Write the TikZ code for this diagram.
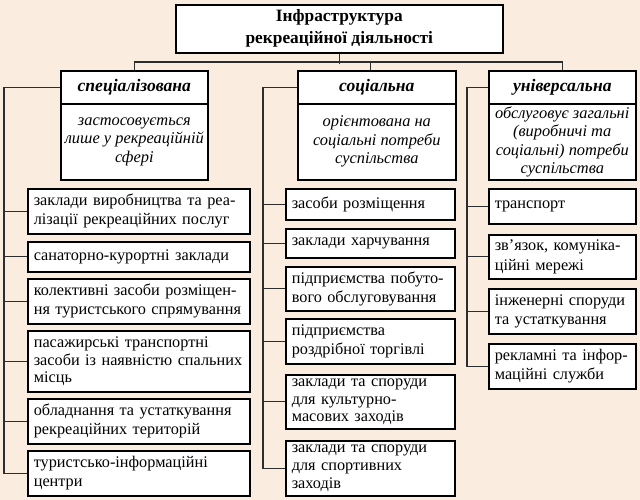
\documentclass[tikz,border=0pt]{standalone}
\usepackage{fontspec}
\setmainfont{Liberation Serif}
\definecolor{bg}{RGB}{250,237,224}
\definecolor{ln}{RGB}{45,45,45}
\begin{document}
\begin{tikzpicture}[x=0.75pt,y=-0.75pt,
  box/.style={draw=black, line width=1.2pt, fill=white, inner xsep=4.5pt, inner ysep=0pt,
    anchor=north west, align=left, font=\fontsize{12.2}{14.3}\selectfont},
  tight/.style={font=\fontsize{12.2}{13.4}\selectfont},
  c1/.style={box, text width=157.5pt},
  c2/.style={box, text width=117.75pt},
  c3/.style={box, text width=101.25pt},
  hd/.style={box, inner sep=0pt, align=center, minimum height=24.75pt,
    font=\fontsize{13.2}{15}\selectfont\bfseries\itshape},
  bd/.style={box, inner sep=0pt, align=center, minimum height=57pt,
    font=\fontsize{12.3}{13.9}\selectfont\itshape},
  topbox/.style={box, inner sep=0pt, align=center, minimum width=245.25pt, minimum height=36pt,
    font=\fontsize{13}{16.5}\selectfont\bfseries},
  conn/.style={draw=ln, line width=0.9pt}]
\fill[bg] (0,0) rectangle (640,500);
\useasboundingbox (0,0) rectangle (640,500);

% top
\node[topbox] (t) at (175,4) {\raisebox{-2pt}{Інфраструктура}\\\raisebox{-2pt}{рекреаційної діяльності}};

% category headers and bodies
\node[hd, minimum width=110.25pt] (h1) at (60,70) {спеціалізована};
\node[bd, minimum width=110.25pt] (b1) at (60,103) {застосовується\\лише у рекреаційній\\сфері};
\node[hd, minimum width=118.5pt] (h2) at (297,70) {соціальна};
\node[bd, minimum width=118.5pt] (b2) at (297,103) {орієнтована на\\соціальні потреби\\суспільства};
\node[hd, minimum width=110.25pt] (h3) at (488,70) {універсальна};
\node[bd, minimum width=110.25pt] (b3) at (488,103) {обслуговує загальні\\(виробничі та\\соціальні) потреби\\суспільства};

% column 1
\node[c1, minimum height=33.75pt] (a1) at (27,188) {заклади виробництва та реа-\\лізації рекреаційних послуг};
\node[c1, minimum height=22.5pt] (a2) at (27,241) {санаторно-курортні заклади};
\node[c1, minimum height=33.75pt] (a3) at (27,278) {колективні засоби розміщен-\\ня туристського спрямування};
\node[c1, minimum height=45.75pt, tight] (a4) at (27,330) {пасажирські транспортні\\засоби із наявністю спальних\\місць};
\node[c1, minimum height=33.75pt] (a5) at (27,398) {обладнання та устаткування\\рекреаційних територій};
\node[c1, minimum height=33.75pt] (a6) at (27,450) {туристсько-інформаційні\\центри};

% column 2
\node[c2, minimum height=23.25pt] (s1) at (285,188) {засоби розміщення};
\node[c2, minimum height=21.75pt] (s2) at (285,228) {заклади харчування};
\node[c2, minimum height=33pt] (s3) at (285,266) {підприємства побуто-\\вого обслуговування};
\node[c2, minimum height=33.75pt] (s4) at (285,318) {підприємства\\роздрібної торгівлі};
\node[c2, minimum height=40.5pt, tight] (s5) at (285,374) {заклади та споруди\\для культурно-\\масових заходів};
\node[c2, minimum height=41.25pt, tight] (s6) at (285,440) {заклади та споруди\\для спортивних\\заходів};

% column 3
\node[c3, minimum height=26.25pt] (u1) at (488,188) {транспорт};
\node[c3, minimum height=33pt] (u2) at (488,234) {зв’язок, комуніка-\\ційні мережі};
\node[c3, minimum height=33.75pt] (u3) at (488,288) {інженерні споруди\\та устаткування};
\node[c3, minimum height=33.75pt] (u4) at (488,343) {рекламні та інфор-\\маційні служби};

% connectors from top
\draw[conn] (t.south) -- ++(0,10);
\draw[conn] (h1.north) -- ++(0,-8) -| (h3.north);
\draw[conn] ([xshift=-4.5pt]h2.north) -- ++(0,-8);

% brackets
\draw[conn] (h1.west) -- ++(-56,0) coordinate (v1) |- (a6.west);
\foreach \n in {a1,a2,a3,a4,a5} \draw[conn] (\n.west) -- (\n.west -| v1);
\draw[conn] (h2.west) -- ++(-34,0) coordinate (v2) |- (s6.west);
\foreach \n in {s1,s2,s3,s4,s5} \draw[conn] (\n.west) -- (\n.west -| v2);
\draw[conn] (h3.west) -- ++(-21,0) coordinate (v3) |- (u4.west);
\foreach \n in {u1,u2,u3} \draw[conn] (\n.west) -- (\n.west -| v3);
\end{tikzpicture}
\end{document}
